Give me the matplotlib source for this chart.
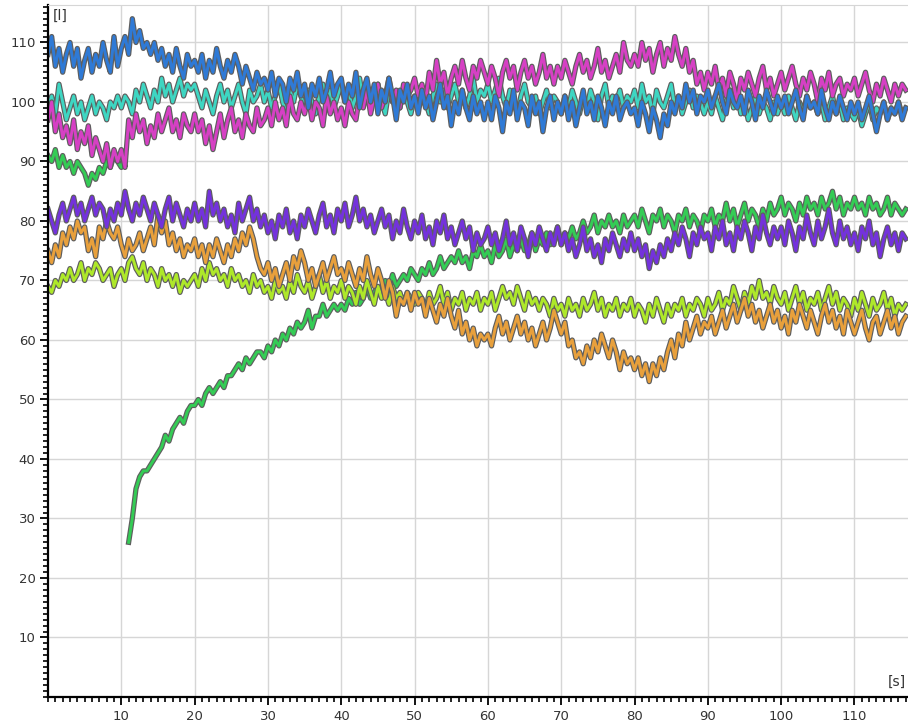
import numpy as np
import matplotlib
matplotlib.use("Agg")
import matplotlib.pyplot as plt
import matplotlib.patheffects as pe
from matplotlib.ticker import MultipleLocator

# amostras a cada 0.5 s
dt = 0.5

azul = [
    108, 111, 106, 109, 105, 108, 110, 106, 109, 104, 107, 109, 105, 108, 106, 110, 107, 105, 111, 106,
    109, 111, 108, 114, 110, 112, 109, 110, 108, 110, 107, 109, 106, 108, 105, 109, 106, 104, 108, 106,
    107, 105, 108, 104, 107, 105, 109, 106, 104, 107, 105, 108, 106, 103, 106, 104, 102, 105, 103, 104,
    102, 105, 101, 104, 103, 100, 104, 102, 105, 101, 103, 99, 103, 101, 104, 100, 102, 105, 101, 103,
    104, 100, 103, 101, 105, 99, 102, 104, 100, 103, 98, 102, 100, 104, 101, 97, 102, 100, 103, 99,
    101, 98, 102, 99, 101, 97, 100, 103, 99, 101, 96, 100, 98, 102, 99, 97, 101, 98, 100, 97,
    100, 97, 101, 99, 95, 100, 98, 102, 97, 100, 99, 96, 101, 98, 100, 95, 99, 101, 97, 100,
    98, 101, 97, 100, 96, 99, 102, 98, 100, 97, 101, 99, 96, 100, 98, 101, 97, 99, 100, 98,
    99, 96, 100, 98, 95, 99, 97, 94, 98, 96, 100, 98, 101, 99, 103, 100, 102, 98, 101, 100,
    102, 99, 101, 103, 100, 98, 102, 100, 99, 101, 98, 102, 100, 97, 101, 99, 102, 100, 98, 101,
    99, 101, 98, 100, 102, 99, 97, 101, 99, 100, 98, 102, 99, 97, 100, 98, 101, 99, 97, 100,
    98, 100, 97, 99, 101, 98, 95, 98, 100, 97, 99, 98, 100, 97, 99,
]

ciano = [
    99, 101, 98, 103, 100, 97, 99, 101, 98, 100, 97, 99, 101, 98, 100, 99, 97, 100, 99, 101,
    99, 101, 100, 98, 102, 100, 103, 101, 99, 102, 100, 104, 101, 103, 100, 102, 104, 101, 103, 102,
    103, 101, 99, 102, 100, 98, 101, 103, 100, 102, 99, 101, 103, 100, 98, 102, 100, 101, 103, 100,
    102, 99, 101, 103, 100, 98, 102, 100, 103, 101, 99, 102, 100, 98, 101, 103, 100, 102, 99, 101,
    103, 100, 102, 99, 101, 104, 100, 102, 99, 101, 103, 100, 98, 102, 100, 101, 99, 102, 100, 98,
    101, 99, 102, 100, 98, 101, 103, 100, 102, 99, 101, 103, 100, 102, 99, 101, 104, 100, 102, 101,
    103, 100, 102, 104, 101, 99, 102, 100, 98, 101, 103, 100, 99, 101, 98, 100, 102, 99, 101, 100,
    98, 101, 99, 102, 100, 98, 101, 99, 102, 100, 97, 101, 103, 99, 101, 100, 102, 99, 101, 100,
    102, 99, 103, 100, 101, 98, 102, 100, 99, 101, 103, 99, 101, 98, 100, 102, 99, 101, 100, 98,
    100, 98, 101, 99, 97, 100, 102, 99, 101, 98, 100, 97, 99, 101, 98, 100, 99, 97, 100, 98,
    100, 98, 101, 99, 97, 100, 98, 101, 99, 100, 98, 100, 97, 99, 101, 98, 100, 97, 99, 98,
    97, 99, 96, 98, 100, 97, 99, 98, 100, 97, 99, 98, 100, 98, 99,
]

magenta = [
    97, 100, 95, 98, 94, 96, 93, 97, 92, 95, 93, 96, 91, 94, 92, 90, 93, 89, 92, 90,
    92, 89, 97, 94, 98, 95, 97, 93, 96, 94, 98, 95, 97, 99, 95, 97, 94, 98, 96, 95,
    98, 95, 97, 93, 96, 92, 95, 98, 94, 97, 99, 95, 97, 94, 98, 96, 95, 99, 96, 97,
    99, 96, 100, 97, 99, 96, 101, 98, 97, 100, 98, 101, 97, 100, 99, 96, 101, 98, 100, 97,
    99, 96, 100, 98, 97, 101, 99, 102, 98, 101, 103, 99, 101, 104, 100, 102, 99, 103, 101, 102,
    104, 101, 103, 100, 105, 102, 107, 103, 105, 101, 104, 106, 103, 107, 104, 102, 106, 104, 107, 105,
    103, 106, 104, 101, 105, 107, 104, 106, 102, 105, 107, 104, 106, 103, 105, 108, 104, 106, 103, 106,
    104, 107, 105, 103, 106, 108, 105, 107, 104, 106, 109, 105, 107, 104, 106, 108, 105, 110, 107, 106,
    108, 106, 110, 107, 109, 105, 108, 110, 106, 109, 107, 111, 108, 106, 109, 105, 107, 103, 105, 102,
    105, 103, 106, 102, 104, 101, 105, 103, 100, 104, 102, 105, 103, 101, 104, 106, 102, 104, 101, 103,
    105, 102, 104, 106, 103, 101, 104, 102, 105, 103, 100, 104, 102, 105, 101, 103, 104, 101, 103, 102,
    104, 101, 103, 105, 102, 100, 103, 101, 104, 102, 100, 103, 101, 103, 102,
]

# verde: primeiro trecho (0 a 10.5 s) e segundo trecho (a partir de 11 s)
verde_a = [91, 90, 92, 89, 91, 89, 90, 88, 90, 89, 88, 86, 88, 87, 89, 88, 90, 89, 91, 90, 89, 91]
verde_b_inicio = 11
verde_b = [
    26, 30, 35, 37, 38, 38, 39, 40, 41, 42, 44, 43, 45, 46, 47, 46, 48, 49,
    49, 50, 49, 51, 52, 51, 52, 53, 52, 54, 54, 55, 56, 55, 57, 56, 57, 58, 58, 57,
    59, 58, 60, 59, 61, 60, 62, 61, 63, 62, 63, 65, 62, 64, 64, 66, 64, 65, 66, 65,
    66, 65, 67, 66, 68, 66, 67, 69, 67, 68, 69, 68, 70, 69, 71, 69, 70, 71, 70, 72,
    71, 70, 72, 71, 73, 71, 72, 74, 72, 73, 74, 73, 75, 73, 74, 72, 75, 74, 76, 74,
    75, 73, 76, 74, 75, 77, 74, 76, 75, 77, 75, 76, 78, 75, 77, 76, 78, 76, 77, 79,
    76, 78, 77, 79, 77, 78, 80, 78, 79, 81, 78, 80, 79, 81, 79, 80, 78, 81, 79, 80,
    81, 79, 82, 80, 78, 81, 80, 82, 79, 81, 80, 78, 81, 80, 82, 79, 81, 80, 78, 81,
    80, 82, 79, 81, 80, 83, 80, 82, 79, 81, 83, 80, 82, 81, 79, 82, 80, 83, 81, 82,
    84, 81, 83, 82, 80, 83, 81, 84, 82, 83, 81, 84, 82, 83, 85, 82, 84, 81, 83, 82,
    84, 82, 83, 81, 84, 82, 83, 81, 82, 84, 81, 83, 82, 81, 82,
]

roxo = [
    82, 80, 78, 81, 83, 80, 82, 84, 81, 83, 80, 82, 84, 81, 83, 82, 79, 82, 80, 83,
    81, 85, 82, 80, 83, 81, 84, 82, 80, 83, 81, 79, 82, 84, 80, 83, 81, 79, 82, 80,
    83, 80, 82, 79, 85, 81, 83, 80, 82, 79, 81, 78, 83, 80, 82, 84, 80, 82, 79, 81,
    78, 80, 77, 81, 79, 82, 78, 80, 77, 81, 79, 82, 80, 78, 81, 83, 79, 81, 78, 82,
    80, 83, 79, 81, 84, 80, 82, 79, 81, 78, 80, 82, 79, 81, 77, 80, 78, 82, 79, 77,
    80, 78, 81, 77, 79, 76, 80, 78, 81, 77, 79, 76, 78, 80, 77, 79, 75, 78, 76, 77,
    79, 76, 78, 75, 77, 80, 76, 78, 75, 79, 77, 74, 78, 76, 79, 77, 75, 78, 76, 79,
    76, 78, 75, 77, 74, 76, 79, 75, 77, 74, 76, 73, 77, 75, 78, 76, 74, 77, 75, 78,
    75, 77, 74, 76, 72, 75, 73, 76, 74, 77, 75, 78, 76, 79, 77, 74, 78, 76, 79, 77,
    78, 75, 79, 77, 80, 76, 78, 75, 79, 77, 80, 78, 75, 79, 77, 81, 78, 76, 79, 77,
    79, 76, 80, 78, 75, 79, 77, 81, 78, 76, 80, 77, 79, 82, 78, 76, 80, 77, 79, 76,
    78, 75, 79, 77, 80, 76, 78, 74, 77, 79, 76, 78, 75, 78, 77,
]

laranja = [
    75, 73, 76, 74, 78, 76, 79, 77, 80, 78, 79, 75, 77, 74, 79, 77, 80, 78, 77, 79,
    76, 74, 77, 75, 76, 78, 75, 77, 79, 76, 81, 78, 80, 76, 78, 75, 77, 74, 76, 75,
    77, 74, 76, 73, 76, 74, 77, 75, 73, 76, 74, 77, 75, 78, 76, 79, 77, 74, 72, 71,
    73, 70, 72, 69, 71, 73, 70, 74, 72, 75, 73, 70, 72, 69, 71, 73, 70, 72, 74, 71,
    72, 70, 73, 71, 69, 72, 70, 74, 71, 69, 72, 70, 67, 70, 68, 64, 67, 66, 68, 65,
    68, 66, 67, 64, 67, 65, 63, 66, 64, 67, 64, 62, 65, 61, 63, 60, 62, 59, 61, 60,
    61, 59, 62, 64, 61, 63, 60, 62, 64, 61, 63, 60, 62, 59, 61, 63, 60, 62, 65, 63,
    61, 63, 59, 60, 57, 58, 56, 59, 57, 60, 58, 61, 59, 57, 60, 58, 55, 58, 56, 57,
    55, 57, 54, 56, 53, 56, 54, 57, 55, 58, 60, 57, 61, 59, 63, 60, 62, 64, 61, 63,
    62, 64, 61, 63, 65, 62, 64, 66, 63, 65, 67, 64, 66, 63, 65, 62, 64, 66, 63, 65,
    62, 64, 61, 65, 63, 66, 64, 62, 65, 63, 61, 64, 66, 63, 65, 62, 64, 61, 65, 63,
    61, 63, 65, 62, 60, 63, 64, 61, 63, 65, 62, 64, 61, 63, 64,
]

amarelo = [
    69, 68, 70, 69, 71, 70, 72, 70, 71, 73, 70, 72, 71, 73, 72, 70, 71, 72, 69, 71,
    72, 70, 73, 74, 72, 71, 73, 70, 72, 71, 69, 72, 70, 71, 69, 71, 68, 70, 69, 70,
    71, 69, 72, 70, 73, 71, 72, 70, 71, 69, 72, 70, 71, 69, 70, 68, 71, 69, 70, 68,
    69, 67, 70, 68, 69, 67, 70, 68, 71, 69, 68, 70, 67, 69, 71, 68, 70, 67, 69, 68,
    70, 67, 69, 68, 66, 69, 67, 70, 68, 66, 69, 67, 68, 66, 69, 67, 68, 66, 68, 67,
    66, 68, 67, 65, 68, 66, 67, 69, 66, 68, 65, 67, 66, 68, 65, 67, 66, 68, 65, 67,
    66, 68, 65, 67, 69, 67, 68, 66, 69, 67, 65, 68, 66, 67, 65, 67, 66, 64, 67, 65,
    66, 64, 67, 65, 66, 64, 67, 65, 66, 68, 65, 67, 64, 66, 65, 67, 64, 66, 65, 67,
    64, 66, 65, 63, 66, 64, 67, 65, 63, 66, 64, 66, 65, 67, 64, 66, 65, 67, 66, 64,
    67, 65, 66, 68, 65, 67, 66, 69, 67, 65, 68, 66, 69, 67, 70, 67, 68, 66, 69, 67,
    66, 68, 65, 67, 69, 66, 68, 65, 67, 66, 68, 65, 67, 69, 66, 68, 65, 67, 66, 64,
    67, 65, 68, 66, 64, 67, 65, 66, 68, 65, 67, 64, 66, 65, 66,
]

def tempo(valores, inicio=0):
    return inicio + np.arange(len(valores)) * dt

fig = plt.figure(figsize=(9.08, 7.23), dpi=100)
ax = fig.add_axes([48/908, 26/723, 860/908, 692/723])

contorno = [pe.Stroke(linewidth=3.8, foreground='#5e5e5e'), pe.Normal()]

series = [
    (tempo(verde_a), verde_a, '#34cc55'),
    (tempo(verde_b, verde_b_inicio), verde_b, '#34cc55'),
    (tempo(amarelo), amarelo, '#aee82a'),
    (tempo(laranja), laranja, '#e8a03c'),
    (tempo(roxo), roxo, '#7432dc'),
    (tempo(ciano), ciano, '#3ed6c2'),
    (tempo(magenta), magenta, '#d640c4'),
    (tempo(azul), azul, '#2f7ad6'),
]
for x, y, cor in series:
    ax.plot(x, y, color=cor, lw=2.1, solid_joinstyle='round',
            path_effects=contorno)

ax.set_xlim(0, 117.3)
ax.set_ylim(0, 116.3)

ax.set_xticks(range(10, 111, 10))
ax.set_yticks(range(10, 111, 10))
ax.xaxis.set_minor_locator(MultipleLocator(1))
ax.yaxis.set_minor_locator(MultipleLocator(1))
ax.tick_params(which='major', length=6, width=1.3, color='black', labelsize=9.5,
               labelcolor='#333333', pad=3)
ax.tick_params(which='minor', length=3.5, width=1.2, color='black')

ax.grid(which='major', color='#d6d6d6', lw=1)
ax.set_axisbelow(True)

ax.spines['right'].set_visible(False)
ax.spines['top'].set_color('#d6d6d6')
ax.spines['left'].set_linewidth(1.6)
ax.spines['bottom'].set_linewidth(1.6)

ax.text(0.005, 0.995, '[l]', transform=ax.transAxes, ha='left', va='top',
        fontsize=10, color='#333333')
ax.text(0.998, 0.012, '[s]', transform=ax.transAxes, ha='right', va='bottom',
        fontsize=10, color='#333333')

fig.savefig('out.png', dpi=100)
